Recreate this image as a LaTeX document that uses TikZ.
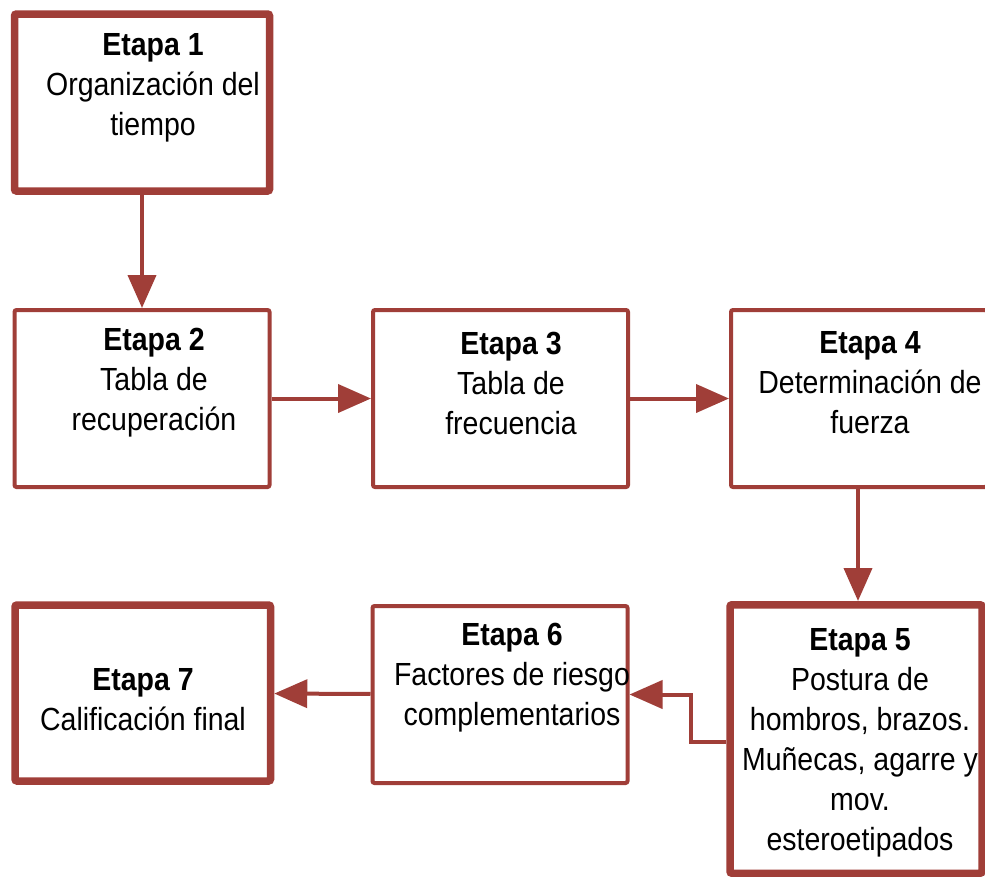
\documentclass[tikz,border=0pt]{standalone}
\usepackage{fontspec}
\setmainfont{Liberation Sans}[FakeStretch=0.89]
\usetikzlibrary{arrows.meta}
\definecolor{etapared}{RGB}{160,62,56}
\tikzset{
  stage/.style={draw=etapared, line width=4pt, fill=white, rounded corners=2pt,
    minimum width=255pt, minimum height=177pt, inner sep=0pt},
  mainstage/.style={stage, line width=7.5pt},
  txt/.style={align=center, inner sep=0pt, font=\fontsize{32}{40}\selectfont},
  flow/.style={draw=etapared, line width=4pt,
    -{Triangle[length=33pt,width=28pt]}}
}
\begin{document}
\begin{tikzpicture}[x=1pt,y=-1pt]
      \useasboundingbox (0,0) rectangle (985,876);
      \node[mainstage] (e1) at (142,102.5) {};
      \node[stage] (e2) at (142,398.5) {};
      \node[stage] (e3) at (500.5,398.5) {};
      \node[stage, minimum width=256pt] (e4) at (859,398.5) {};
      \node[mainstage, minimum width=252pt, minimum height=268.5pt] (e5) at (856,739) {};
      \node[stage] (e6) at (500,694.5) {};
      \node[mainstage, minimum width=255.5pt, minimum height=176pt] (e7) at (142.75,693) {};
      \node[txt] (t1) at (153,88) {\textbf{Etapa 1}\\Organización del\\tiempo};
      \node[txt] (t2) at (154,383) {\textbf{Etapa 2}\\Tabla de\\recuperación};
      \node[txt] (t3) at (511,383) {\textbf{Etapa 3}\\Tabla de\\frecuencia};
      \node[txt] (t4) at (870,383) {\textbf{Etapa 4}\\Determinación de\\fuerza};
      \node[txt] (t5) at (860,743) {\textbf{Etapa 5}\\Postura de\\hombros, brazos.\\Muñecas, agarre y\\mov.\\esteroetipados};
      \node[txt] (t6) at (512,678) {\textbf{Etapa 6}\\Factores de riesgo\\complementarios};
      \node[txt] (t7) at (143,700) {\textbf{Etapa 7}\\Calificación final};
      \begin{scope}[flow]
        \draw (e1) to (e2);
        \draw (e2) to (e3);
        \draw (e3) to (e4);
        \draw (e4.south -| 858,0) to (e5.north -| 858,0);
        \draw (e5.west |- 0,742) -- ++(-35,0) |- (e6.east);
        \draw (e6) to (e7);
      \end{scope}
    \end{tikzpicture}
\end{document}
